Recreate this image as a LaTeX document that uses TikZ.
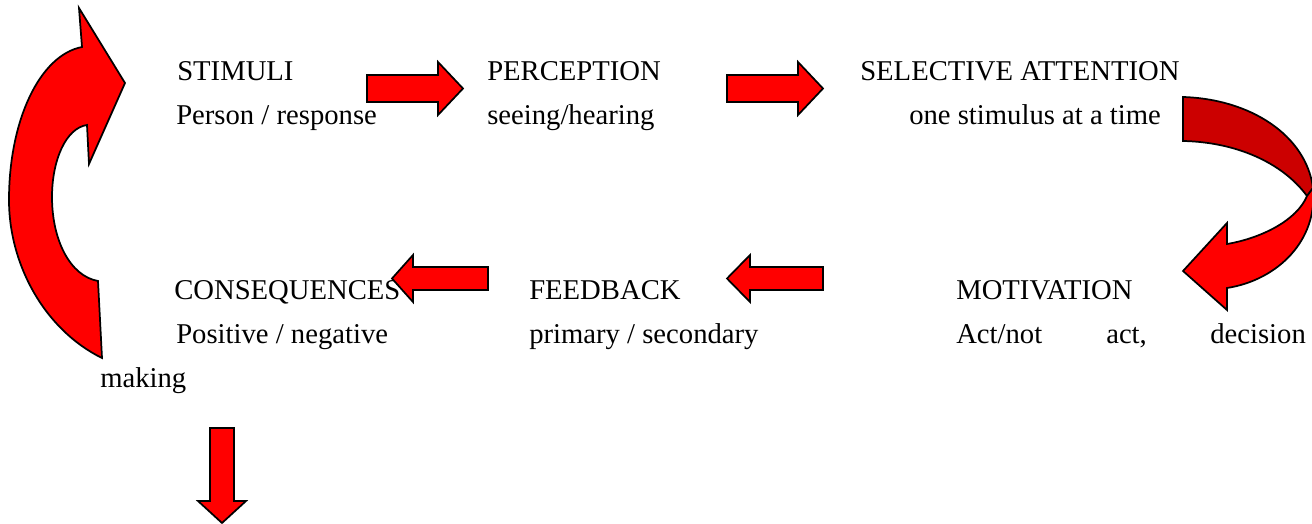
\documentclass[tikz,border=0pt]{standalone}
\usepackage{fontspec}
\setmainfont{Liberation Serif}
\definecolor{arrowred}{HTML}{FF0000}
\definecolor{arrowdark}{HTML}{CC0000}
\tikzset{
  blockarrow/.style={fill=arrowred, draw=black, line width=1.3pt, line join=miter},
  backarrow/.style={fill=arrowdark, draw=black, line width=1.3pt, line join=miter},
  lbl/.style={anchor=base west, inner sep=0pt, font=\fontsize{21.5}{26}\selectfont}
}
\begin{document}
\begin{tikzpicture}[x=0.75pt, y=-0.75pt]
\useasboundingbox (0,0) rectangle (1312,524);

% ---- text (baselines 43.75px apart) ----
\node[lbl] (stimuli)   at (177,81)     {STIMULI};
\node[lbl] (person)    at (176,124.75) {Person / response};
\node[lbl] (percept)   at (487,81)     {PERCEPTION};
\node[lbl] (seeing)    at (487,124.75) {seeing/hearing};
\node[lbl] (selective) at (860,81)     {SELECTIVE ATTENTION};
\node[lbl] (onestim)   at (909,124.75) {one stimulus at a time};

\node[lbl] (conseq)    at (174,299.75) {CONSEQUENCES};
\node[lbl] (positive)  at (176,343.5)  {Positive / negative};
\node[lbl] (feedback)  at (529,299.75) {FEEDBACK};
\node[lbl] (primary)   at (529,343.5)  {primary / secondary};
\node[lbl] (motiv)     at (956,299.75) {MOTIVATION};
\node[lbl] (actnot)    at (956,343.5)  {Act/not};
\node[lbl] (act)       at (1106,343.5) {act,};
\node[lbl] (decision)  at (1210,343.5) {decision};
\node[lbl] (making)    at (100,387.25) {making};

% ---- straight block arrows ----
% stimuli -> perception
\path[blockarrow] (367,75) -- (438,75) -- (438,62) -- (463,88.5) -- (438,115) -- (438,102) -- (367,102) -- cycle;
% perception -> selective attention
\path[blockarrow] (727,75) -- (798,75) -- (798,62) -- (823,88.5) -- (798,115) -- (798,102) -- (727,102) -- cycle;
% feedback -> consequences
\path[blockarrow] (488,267) -- (413,267) -- (413,255) -- (392,278.5) -- (413,302) -- (413,290) -- (488,290) -- cycle;
% motivation -> feedback
\path[blockarrow] (823,267) -- (750,267) -- (750,255) -- (727,278.5) -- (750,302) -- (750,290) -- (823,290) -- cycle;
% downward arrow below consequences
\path[blockarrow] (210,428) -- (234,428) -- (234,501) -- (246,501) -- (222,523) -- (198,501) -- (210,501) -- cycle;

% ---- curved arrow: consequences back to stimuli ----
\path[blockarrow] (125,83) -- (89,164) -- (87,125)
  .. controls (66,128) and (52,160) .. (52,197)
  .. controls (52,240) and (70,276) .. (98,281)
  -- (102,358)
  .. controls (45,330) and (9,265) .. (9,200)
  .. controls (9,120) and (40,55) .. (82,47)
  -- (79,8) -- cycle;

% ---- curved arrow: selective attention down to motivation ----
\path[backarrow] (1183,97)
  .. controls (1250,99) and (1306,135) .. (1313,188)
  -- (1307,196)
  .. controls (1282,162) and (1235,142) .. (1183,141) -- cycle;
\path[blockarrow] (1307,196)
  -- (1313,188)
  .. controls (1318,240) and (1278,280) .. (1227,288)
  -- (1227,310) -- (1183,271) -- (1227,223) -- (1227,244)
  .. controls (1262,238) and (1297,220) .. (1307,196) -- cycle;
\end{tikzpicture}
\end{document}
